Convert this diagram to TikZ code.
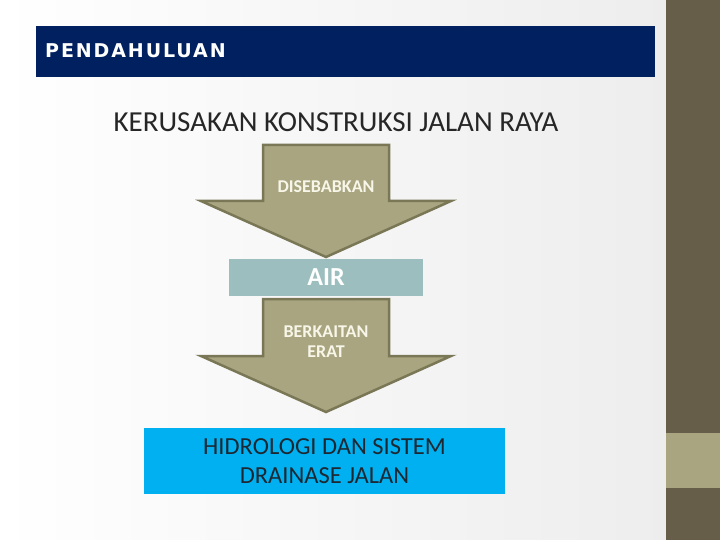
\documentclass[tikz,border=0pt]{standalone}
\usepackage{fontspec}
\setmainfont{Carlito}
\newfontfamily\headfont[LetterSpace=10]{DejaVu Sans}
\usetikzlibrary{positioning}
\definecolor{navy}{RGB}{0,32,96}
\definecolor{olivebar}{RGB}{102,94,72}
\definecolor{khaki}{RGB}{168,165,128}
\definecolor{khakiline}{RGB}{122,119,86}
\definecolor{aqua}{RGB}{156,190,190}
\definecolor{skyblue}{RGB}{0,176,240}
\definecolor{inktext}{RGB}{38,38,38}
\definecolor{boxtext}{RGB}{30,40,50}
\definecolor{cream}{RGB}{248,246,232}
\tikzstyle{banner} = [fill=navy, rectangle, inner sep=0pt,
    minimum width=619pt, minimum height=51pt]
\tikzstyle{bigarrow} = [draw=khakiline, fill=khaki, line width=2.5pt]
\tikzstyle{arrowtext} = [text=cream, align=center,
    font=\bfseries\fontsize{18}{20}\selectfont]
\tikzstyle{water} = [fill=aqua, rectangle, inner sep=0pt, text=white,
    minimum width=194pt, minimum height=37pt,
    font=\bfseries\fontsize{26}{30}\selectfont]
\tikzstyle{result} = [fill=skyblue, rectangle, inner sep=0pt, text=boxtext,
    minimum width=361pt, minimum height=66pt, align=center,
    font=\fontsize{24.5}{28.5}\selectfont]
% arrow pointing down: top, shoulder, tip
\newcommand{\downflow}[3]{%
    \draw [bigarrow] (263,#1) -- (389,#1) -- (389,#2) -- (451,#2)
        -- (326,#3) -- (201,#2) -- (263,#2) -- cycle;}

\begin{document}
\begin{tikzpicture}[x=1pt, y=-1pt]
    \useasboundingbox (0,0) rectangle (720,540);
    \shade [left color=white, right color=gray!14] (0,0) rectangle (666,540);
    \fill [olivebar] (666,0) rectangle (720,540);
    \fill [khaki] (666,433) rectangle (720,488);
    \node [banner] (header) at (345.5,51.5) {};
    \node [anchor=west, inner sep=0pt, text=white,
        font=\headfont\bfseries\fontsize{19}{22}\selectfont]
        (headtext) at (45,50.5) {PENDAHULUAN};
    \node [text=inktext, font=\fontsize{29}{33}\selectfont] (title) at (336,122)
        {KERUSAKAN KONSTRUKSI JALAN RAYA};
    \downflow{145}{201}{257}
    \node [arrowtext] (cause) at (326,187) {DISEBABKAN};
    \node [water] (air) at (326,277.5) {AIR};
    \downflow{299}{356}{412}
    \node [arrowtext] (link) at (326,342) {BERKAITAN\\ERAT};
    \node [result] (drain) at (324.5,461) {HIDROLOGI DAN SISTEM\\DRAINASE JALAN};
\end{tikzpicture}
\end{document}
